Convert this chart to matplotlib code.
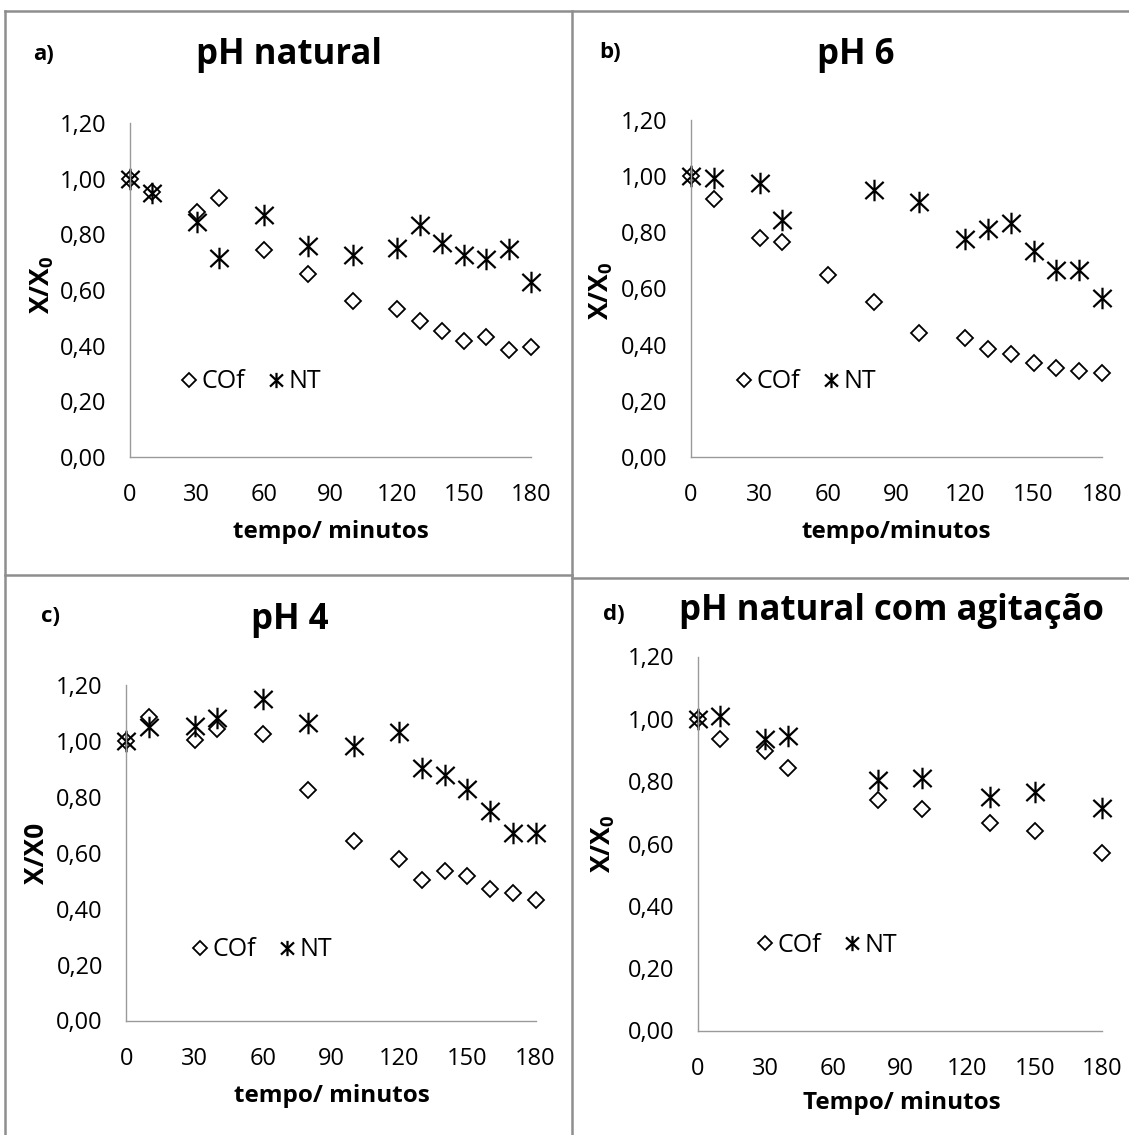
import matplotlib
matplotlib.use("Agg")
import matplotlib.pyplot as plt
from matplotlib.lines import Line2D
from matplotlib.path import Path
from matplotlib.ticker import FuncFormatter

plt.rcParams["font.family"] = ["Open Sans", "DejaVu Sans"]
plt.rcParams["mathtext.fontset"] = "custom"
plt.rcParams["mathtext.rm"] = "Open Sans"
plt.rcParams["mathtext.bf"] = "Open Sans:bold"

W, H = 1129, 1135

# tempo (min) e razões X/X0 por ensaio
t_a = [0, 10, 30, 40, 60, 80, 100, 120, 130, 140, 150, 160, 170, 180]
cof_a = [1.00, 0.953, 0.880, 0.930, 0.743, 0.656, 0.561, 0.532, 0.487, 0.454, 0.417, 0.430, 0.385, 0.395]
nt_a = [1.00, 0.950, 0.843, 0.715, 0.869, 0.758, 0.724, 0.750, 0.832, 0.770, 0.724, 0.712, 0.747, 0.630]

t_b_cof = [0, 10, 30, 40, 60, 80, 100, 120, 130, 140, 150, 160, 170, 180]
cof_b = [1.00, 0.918, 0.780, 0.764, 0.647, 0.551, 0.440, 0.422, 0.383, 0.366, 0.336, 0.317, 0.308, 0.299]
t_b_nt = [0, 10, 30, 40, 80, 100, 120, 130, 140, 150, 160, 170, 180]
nt_b = [1.00, 0.993, 0.974, 0.844, 0.950, 0.909, 0.776, 0.812, 0.835, 0.734, 0.666, 0.666, 0.566]

t_c = [0, 10, 30, 40, 60, 80, 100, 120, 130, 140, 150, 160, 170, 180]
cof_c = [1.00, 1.084, 1.002, 1.043, 1.024, 0.824, 0.641, 0.576, 0.502, 0.534, 0.515, 0.470, 0.457, 0.429]
nt_c = [1.00, 1.049, 1.053, 1.081, 1.148, 1.062, 0.979, 1.030, 0.901, 0.876, 0.827, 0.749, 0.670, 0.670]

t_d = [0, 10, 30, 40, 80, 100, 130, 150, 180]
cof_d = [1.00, 0.936, 0.896, 0.842, 0.740, 0.712, 0.665, 0.639, 0.568]
nt_d = [1.00, 1.009, 0.936, 0.946, 0.803, 0.809, 0.749, 0.766, 0.714]

x_ticks = [0, 30, 60, 90, 120, 150, 180]
y_ticks = [0.0, 0.2, 0.4, 0.6, 0.8, 1.0, 1.2]

# asterisco do Excel: traço vertical + X
star = Path(
    [(0, -1), (0, 1), (-0.85, -0.8), (0.85, 0.8), (-0.85, 0.8), (0.85, -0.8)],
    [Path.MOVETO, Path.LINETO, Path.MOVETO, Path.LINETO, Path.MOVETO, Path.LINETO],
)


def fx(x):
    return x / W


def fy(y):
    return 1 - y / H


panels = [
    dict(rect=(130, 531, 457, 123), letter="a)", letter_xy=(44, 54),
         title="pH natural", title_xy=(289, 55),
         ylabel="X/X$_{\\mathregular{0}}$", ylabel_xy=(42, 285),
         xlabel="tempo/ minutos", xlabel_xy=(331, 532),
         legend_xy=(180, 382),
         cof=(t_a, cof_a), nt=(t_a, nt_a)),
    dict(rect=(691, 1102, 457, 120), letter="b)", letter_xy=(610, 53),
         title="pH 6", title_xy=(856, 55),
         ylabel="X/X$_{\\mathregular{0}}$", ylabel_xy=(601, 291),
         xlabel="tempo/minutos", xlabel_xy=(896, 532),
         legend_xy=(735, 382),
         cof=(t_b_cof, cof_b), nt=(t_b_nt, nt_b)),
    dict(rect=(126.5, 535.5, 1020.5, 684.6), letter="c)", letter_xy=(51, 617),
         title="pH 4", title_xy=(290, 620),
         ylabel="X/X0", ylabel_xy=(37, 853),
         xlabel="tempo/ minutos", xlabel_xy=(332, 1096),
         legend_xy=(191, 950),
         cof=(t_c, cof_c), nt=(t_c, nt_c)),
    dict(rect=(698, 1102, 1030.5, 656.5), letter="d)", letter_xy=(614, 615),
         title="pH natural com agitação", title_xy=(891, 611),
         ylabel="X/X$_{\\mathregular{0}}$", ylabel_xy=(603, 844),
         xlabel="Tempo/ minutos", xlabel_xy=(902, 1103),
         legend_xy=(756, 945),
         cof=(t_d, cof_d), nt=(t_d, nt_d)),
]

fig = plt.figure(figsize=(W / 100, H / 100), dpi=100)

# molduras cinzentas entre os gráficos
border = dict(color="#8e8e8e", lw=1.8, transform=fig.transFigure)
fig.add_artist(Line2D([fx(5), fx(W)], [fy(11), fy(11)], **border))
fig.add_artist(Line2D([fx(5), fx(5)], [fy(11), fy(H)], **border))
fig.add_artist(Line2D([fx(572), fx(572)], [fy(11), fy(H)], **border))
fig.add_artist(Line2D([fx(5), fx(572)], [fy(575), fy(575)], **border))
fig.add_artist(Line2D([fx(572), fx(W)], [fy(578), fy(578)], **border))

comma = FuncFormatter(lambda v, pos: f"{v:.2f}".replace(".", ","))

for p in panels:
    x0, x1, y0, y1 = p["rect"]
    ax = fig.add_axes([fx(x0), fy(y0), fx(x1 - x0), (y0 - y1) / H])
    ax.plot(*p["cof"], linestyle="none", marker="D", markersize=8.5,
            markerfacecolor="white", markeredgecolor="black",
            markeredgewidth=1.3, clip_on=False, label="COf")
    ax.plot(*p["nt"], linestyle="none", marker=star, markersize=15.5,
            markeredgecolor="black", markeredgewidth=1.6,
            clip_on=False, label="NT")
    ax.set_xlim(0, 180)
    ax.set_ylim(0, 1.2)
    ax.set_xticks(x_ticks)
    ax.set_yticks(y_ticks)
    ax.yaxis.set_major_formatter(comma)
    ax.tick_params(length=0, labelsize=17, colors="black")
    ax.tick_params(axis="x", pad=19)
    ax.tick_params(axis="y", pad=17)
    for side in ("top", "right"):
        ax.spines[side].set_visible(False)
    for side in ("left", "bottom"):
        ax.spines[side].set_color("#9a9a9a")
        ax.spines[side].set_linewidth(1.0)
    ax.patch.set_alpha(0)

    leg = ax.legend(loc="center left",
                    bbox_to_anchor=(fx(p["legend_xy"][0]), fy(p["legend_xy"][1])),
                    bbox_transform=fig.transFigure, ncol=2, frameon=False,
                    fontsize=18, handlelength=0.7, handletextpad=0.15,
                    columnspacing=0.9, borderpad=0, borderaxespad=0)
    leg.legend_handles[0].set_markersize(7)
    leg.legend_handles[1].set_markersize(11)

    fig.text(fx(p["letter_xy"][0]), fy(p["letter_xy"][1]), p["letter"],
             fontsize=16, fontweight="bold", ha="center", va="center")
    fig.text(fx(p["title_xy"][0]), fy(p["title_xy"][1]), p["title"],
             fontsize=25, fontweight="bold", ha="center", va="center")
    fig.text(fx(p["ylabel_xy"][0]), fy(p["ylabel_xy"][1]), p["ylabel"],
             fontsize=19, fontweight="bold", ha="center", va="center",
             rotation=90)
    fig.text(fx(p["xlabel_xy"][0]), fy(p["xlabel_xy"][1]), p["xlabel"],
             fontsize=17.5, fontweight="bold", ha="center", va="center")

fig.savefig("out.png", dpi=100, facecolor="white")
